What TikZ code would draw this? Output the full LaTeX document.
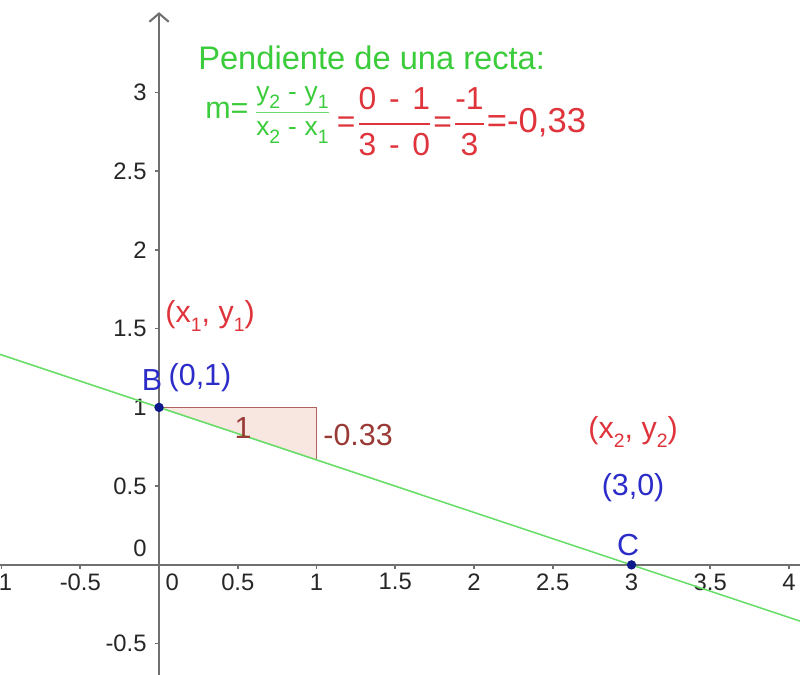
\documentclass[tikz,border=0pt]{standalone}
\usepackage{fontspec}
\setmainfont{Liberation Sans}
\usepackage{amsmath}
\usetikzlibrary{arrows.meta}
\definecolor{Verde}{HTML}{3ACC3A}
\definecolor{Recta}{HTML}{66DD66}
\definecolor{Rojo}{HTML}{E0343C}
\definecolor{Azul}{HTML}{2C2CC8}
\definecolor{Punto}{HTML}{0C1A8C}
\definecolor{Marron}{HTML}{9A3A36}
\definecolor{Rosa}{HTML}{F8E6E0}
\definecolor{Eje}{HTML}{707070}
\definecolor{Texto}{HTML}{262626}
\newcommand{\sbj}[1]{\raisebox{-0.6ex}{\scriptsize #1}}
\newcommand{\fr}[2]{$\dfrac{\mbox{#1}}{\mbox{#2}}$}
\newcommand{\mn}{\hspace{0.4em}-\hspace{0.4em}}
\newcommand{\mnv}{\hspace{0.3em}-\hspace{0.3em}}

\begin{document}
\begin{tikzpicture}[
    x=2cm, y=2cm,
    eje/.style={draw=Eje, line width=0.75pt},
    tick/.style={draw=Eje, line width=0.6pt},
    ticklbl/.style={font=\fontsize{8.6}{10}\selectfont, text=Texto, inner sep=0pt},
    lbl/.style={font=\fontsize{11}{13}\selectfont, inner sep=0pt},
    punto/.style={fill=Punto, draw=none}
  ]
    \fill[white] (-1.01,-0.698) rectangle (4.07,3.587);
    \useasboundingbox (-1.01,-0.698) rectangle (4.07,3.587);

    \draw[eje] (-1.01,0) -- (4.07,0);
    \draw[eje, -{Straight Barb[length=3pt,width=7pt]}] (0,-0.698) -- (0,3.51);
    \foreach \v [count=\k] in {-1,-0.5,0.5,1,1.5,2,2.5,3,3.5,4}
      \draw[tick] (\v,0) -- (\v,-0.025);
    \foreach \v [count=\k] in {-0.5,0.5,1,1.5,2,2.5,3}
      \draw[tick] (0,\v) -- (-0.025,\v);

    \foreach \v [count=\k] in {-1,-0.5,0.5,1,1.5,2,2.5,3,3.5,4}
      \node[ticklbl] (xt\k) at (\v,-0.108) {\v};
    \node[ticklbl] (xt0) at (0.083,-0.108) {0};
    \foreach \v [count=\k] in {-0.5,0.5,1,1.5,2,2.5,3}
      \node[ticklbl, anchor=east] (yt\k) at (-0.076,\v) {\v};
    \node[ticklbl, anchor=east] (yt0) at (-0.076,0.108) {0};

    \coordinate (B) at (0,1);
    \coordinate (C) at (3,0);
    \coordinate (Bx) at (1,1);
    \coordinate (By) at (1,2/3);

    \fill[Rosa] (B) -- (Bx) -- (By) -- cycle;
    \draw[Marron!80, line width=0.6pt] (B) -- (Bx) -- (By);
    \draw[Recta, line width=0.55pt] (-1.01,1.3367) -- (4.07,-0.3567);
    \fill[punto] (B) circle (1.7pt);
    \fill[punto] (C) circle (1.7pt);

    \node[lbl, text=Marron] (uno) at (0.533,0.87) {1};
    \node[lbl, text=Marron, anchor=west] (pend) at (1.04,0.825) {-0.33};

    \node[lbl, text=Azul] (nB) at (-0.044,1.175) {B};
    \node[lbl, text=Azul] (cB) at (0.26,1.19) {(0,1)};
    \node[lbl, text=Azul] (nC) at (2.978,0.127) {C};
    \node[lbl, text=Azul] (cC) at (3.01,0.489) {(3,0)};

    \node[lbl, text=Rojo] (p1) at (0.324,1.58) {(x\sbj{1}, y\sbj{1})};
    \node[lbl, text=Rojo] (p2) at (3.01,0.845) {(x\sbj{2}, y\sbj{2})};

    \node[lbl, text=Verde, font=\fontsize{11.8}{14}\selectfont] (titulo) at (1.35,3.219) {Pendiente de una recta:};
    \node[lbl, text=Verde, anchor=west] (mverde) at (0.29,2.855)
      {m=\hspace{0.15em}\fontsize{9.5}{11}\selectfont\color{Verde!75}\fr{\color{Verde}y\sbj{2}\mnv y\sbj{1}}{\color{Verde}x\sbj{2}\mnv x\sbj{1}}};
    \node[lbl, text=Rojo, anchor=west, font=\fontsize{11.5}{13}\selectfont] (mrojo) at (1.125,2.815)
      {=\fr{0\mn 1}{3\mn 0}=\fr{-1}{3}{\fontsize{12.5}{14}\selectfont=-0,33}};
  \end{tikzpicture}
\end{document}
